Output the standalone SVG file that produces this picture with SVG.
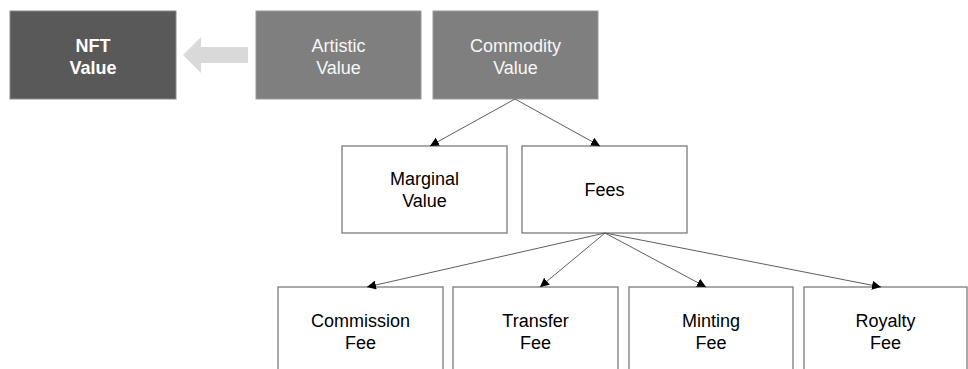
<svg xmlns="http://www.w3.org/2000/svg" width="968" height="369" viewBox="0 0 968 369">
<defs>
<marker id="ah" markerWidth="10" markerHeight="9" refX="9" refY="4.5" orient="auto" markerUnits="userSpaceOnUse">
<path d="M0,0 L9,4.5 L0,9 Z" fill="#000"/>
</marker>
<style>
text{font-family:"Liberation Sans",Arial,Helvetica,sans-serif;font-size:18px;text-anchor:middle}
.dark{fill:#595959;stroke:#8a8a8a;stroke-width:1}
.mid{fill:#7f7f7f;stroke:#9a9a9a;stroke-width:1}
.white{fill:#fff;stroke:#7a7a7a;stroke-width:1.3}
.tw{fill:#fff;font-weight:bold}
.tl{fill:#f7f7f7}
.tb{fill:#000}
.conn line{stroke:#5e5e5e;stroke-width:1;marker-end:url(#ah)}
</style>
</defs>
<g id="nft">
<rect class="dark" x="10" y="11" width="166" height="88"/>
<text class="tw" x="93" y="51.5">NFT</text>
<text class="tw" x="93" y="73.5">Value</text>
</g>
<g id="big-arrow">
<polygon points="183,55 201,37 201,47 248,47 248,63 201,63 201,73" fill="#d9d9d9"/>
</g>
<g id="artistic">
<rect class="mid" x="256" y="11" width="165" height="88"/>
<text class="tl" x="338.5" y="51.5">Artistic</text>
<text class="tl" x="338.5" y="73.5">Value</text>
</g>
<g id="commodity">
<rect class="mid" x="433" y="11" width="165" height="88"/>
<text class="tl" x="515.5" y="51.5">Commodity</text>
<text class="tl" x="515.5" y="73.5">Value</text>
</g>
<g id="marginal">
<rect class="white" x="342" y="146" width="165" height="87"/>
<text class="tb" x="424.5" y="185">Marginal</text>
<text class="tb" x="424.5" y="207">Value</text>
</g>
<g id="fees">
<rect class="white" x="522" y="146" width="165" height="87"/>
<text class="tb" x="604.5" y="196">Fees</text>
</g>
<g id="commission">
<rect class="white" x="278" y="287" width="165" height="90"/>
<text class="tb" x="360.5" y="327">Commission</text>
<text class="tb" x="360.5" y="349">Fee</text>
</g>
<g id="transfer">
<rect class="white" x="453" y="287" width="165" height="90"/>
<text class="tb" x="535.5" y="327">Transfer</text>
<text class="tb" x="535.5" y="349">Fee</text>
</g>
<g id="minting">
<rect class="white" x="629" y="287" width="164" height="90"/>
<text class="tb" x="711" y="327">Minting</text>
<text class="tb" x="711" y="349">Fee</text>
</g>
<g id="royalty">
<rect class="white" x="804" y="287" width="163" height="90"/>
<text class="tb" x="885.5" y="327">Royalty</text>
<text class="tb" x="885.5" y="349">Fee</text>
</g>
<g id="connectors" class="conn">
<line x1="515" y1="99" x2="430" y2="146"/>
<line x1="515" y1="99" x2="600" y2="146"/>
<line x1="605" y1="233" x2="367" y2="287"/>
<line x1="605" y1="233" x2="540" y2="287"/>
<line x1="605" y1="233" x2="706" y2="287"/>
<line x1="605" y1="233" x2="881" y2="287"/>
</g>
</svg>
